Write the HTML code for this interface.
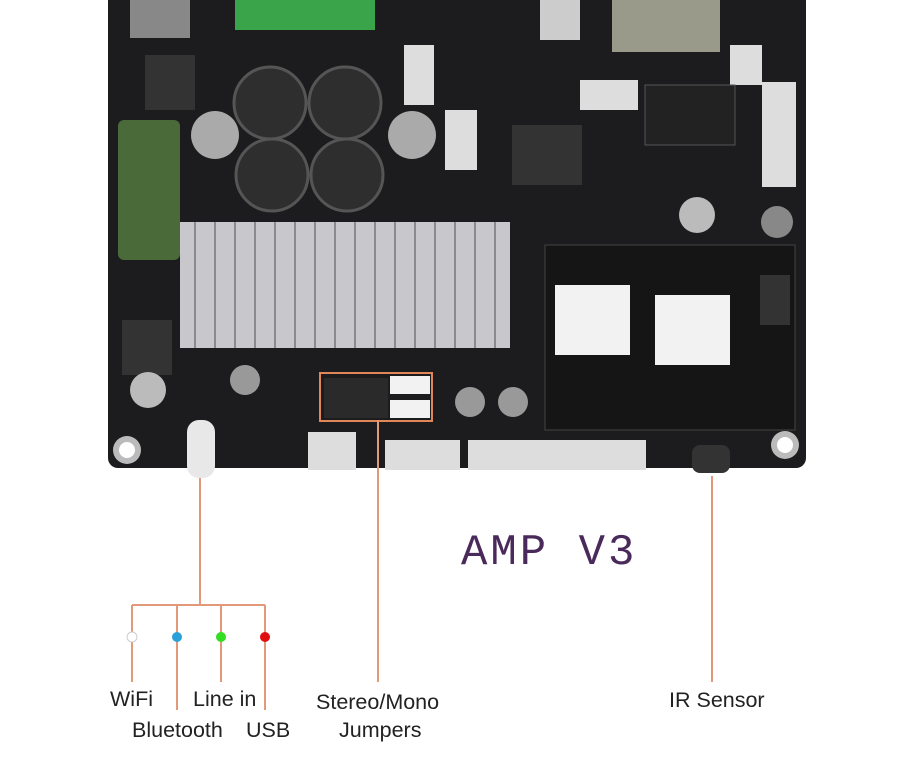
<!DOCTYPE html>
<html><head><meta charset="utf-8"><style>
body{margin:0;width:900px;height:769px;background:#fff;position:relative;overflow:hidden;font-family:"Liberation Sans",sans-serif}
.a{position:absolute}
.lbl{position:absolute;font-size:21.5px;color:#222;white-space:nowrap}
</style></head><body>
<svg class="a" style="left:0;top:0" width="900" height="769">
<rect x="108" y="-10" width="698" height="478" rx="10" fill="#1c1c1e"/>
<circle cx="127" cy="450" r="14" fill="#bbb"/><circle cx="127" cy="450" r="8" fill="#fff"/>
<circle cx="785" cy="445" r="14" fill="#bbb"/><circle cx="785" cy="445" r="8" fill="#fff"/>
<rect x="235" y="0" width="140" height="30" fill="#3aa44a"/>
<rect x="130" y="0" width="60" height="38" fill="#888"/>
<rect x="612" y="0" width="108" height="52" fill="#9a9a8a"/>
<rect x="540" y="0" width="40" height="40" fill="#ccc"/>
<rect x="145" y="55" width="50" height="55" fill="#333"/>
<rect x="118" y="120" width="62" height="140" rx="6" fill="#4a6a3a"/>
<circle cx="270" cy="103" r="36" fill="#2e2e2e" stroke="#555" stroke-width="3"/>
<circle cx="345" cy="103" r="36" fill="#2e2e2e" stroke="#555" stroke-width="3"/>
<circle cx="272" cy="175" r="36" fill="#2e2e2e" stroke="#555" stroke-width="3"/>
<circle cx="347" cy="175" r="36" fill="#2e2e2e" stroke="#555" stroke-width="3"/>
<circle cx="215" cy="135" r="24" fill="#aaa"/><circle cx="412" cy="135" r="24" fill="#aaa"/>
<rect x="404" y="45" width="30" height="60" fill="#ddd"/>
<rect x="445" y="110" width="32" height="60" fill="#ddd"/>
<rect x="580" y="80" width="58" height="30" fill="#ddd"/>
<rect x="730" y="45" width="32" height="40" fill="#ddd"/>
<rect x="762" y="82" width="34" height="105" fill="#ddd"/>
<rect x="512" y="125" width="70" height="60" fill="#333"/>
<rect x="645" y="85" width="90" height="60" fill="#222" stroke="#555"/>
<circle cx="697" cy="215" r="18" fill="#bbb"/><circle cx="777" cy="222" r="16" fill="#888"/>
<rect x="180" y="222" width="330" height="126" fill="#c8c8cc"/>
<g stroke="#8a8a90" stroke-width="2">
<line x1="195" y1="222" x2="195" y2="348"/><line x1="215" y1="222" x2="215" y2="348"/><line x1="235" y1="222" x2="235" y2="348"/><line x1="255" y1="222" x2="255" y2="348"/><line x1="275" y1="222" x2="275" y2="348"/><line x1="295" y1="222" x2="295" y2="348"/><line x1="315" y1="222" x2="315" y2="348"/><line x1="335" y1="222" x2="335" y2="348"/><line x1="355" y1="222" x2="355" y2="348"/><line x1="375" y1="222" x2="375" y2="348"/><line x1="395" y1="222" x2="395" y2="348"/><line x1="415" y1="222" x2="415" y2="348"/><line x1="435" y1="222" x2="435" y2="348"/><line x1="455" y1="222" x2="455" y2="348"/><line x1="475" y1="222" x2="475" y2="348"/><line x1="495" y1="222" x2="495" y2="348"/>
</g>
<rect x="545" y="245" width="250" height="185" fill="#151515" stroke="#444"/>
<rect x="555" y="285" width="75" height="70" fill="#f2f2f2"/>
<rect x="655" y="295" width="75" height="70" fill="#f2f2f2"/>
<rect x="760" y="275" width="30" height="50" fill="#333"/>
<rect x="122" y="320" width="50" height="55" fill="#333"/>
<circle cx="148" cy="390" r="18" fill="#bbb"/>
<circle cx="245" cy="380" r="15" fill="#999"/>
<circle cx="470" cy="402" r="15" fill="#999"/><circle cx="513" cy="402" r="15" fill="#999"/>
<rect x="320" y="373" width="112" height="48" fill="none" stroke="#e0875a" stroke-width="2"/>
<rect x="324" y="378" width="64" height="40" fill="#2a2a2a"/>
<rect x="390" y="376" width="40" height="18" fill="#f2f2f2"/><rect x="390" y="400" width="40" height="18" fill="#f2f2f2"/>
<rect x="308" y="432" width="48" height="38" fill="#ddd"/>
<rect x="385" y="440" width="75" height="30" fill="#ddd"/>
<rect x="468" y="440" width="178" height="30" fill="#ddd"/>
<rect x="187" y="420" width="28" height="58" rx="12" fill="#e8e8e8"/>
<rect x="692" y="445" width="38" height="28" rx="8" fill="#333"/>
<g stroke="#e2997a" stroke-width="2" fill="none">
<line x1="200" y1="478" x2="200" y2="605"/>
<line x1="132" y1="605" x2="265" y2="605"/>
<line x1="132" y1="605" x2="132" y2="682"/><line x1="177" y1="605" x2="177" y2="710"/>
<line x1="221" y1="605" x2="221" y2="682"/><line x1="265" y1="605" x2="265" y2="710"/>
<line x1="378" y1="420" x2="378" y2="682"/>
<line x1="712" y1="476" x2="712" y2="682"/>
</g>
<circle cx="132" cy="637" r="5" fill="#fff" stroke="#ccc"/>
<circle cx="177" cy="637" r="5" fill="#2aa0d8"/>
<circle cx="221" cy="637" r="5" fill="#33dd22"/>
<circle cx="265" cy="637" r="5" fill="#e01010"/>
<text x="461" y="564" font-family="Liberation Mono,monospace" font-size="44" letter-spacing="3" fill="#4a2a5a">AMP V3</text>
</svg>
<div class="lbl" style="left:110px;top:687px">WiFi</div>
<div class="lbl" style="left:193px;top:687px">Line in</div>
<div class="lbl" style="left:132px;top:718px">Bluetooth</div>
<div class="lbl" style="left:246px;top:718px">USB</div>
<div class="lbl" style="left:316px;top:690px">Stereo/Mono</div>
<div class="lbl" style="left:339px;top:718px">Jumpers</div>
<div class="lbl" style="left:669px;top:688px">IR Sensor</div>
</body></html>
